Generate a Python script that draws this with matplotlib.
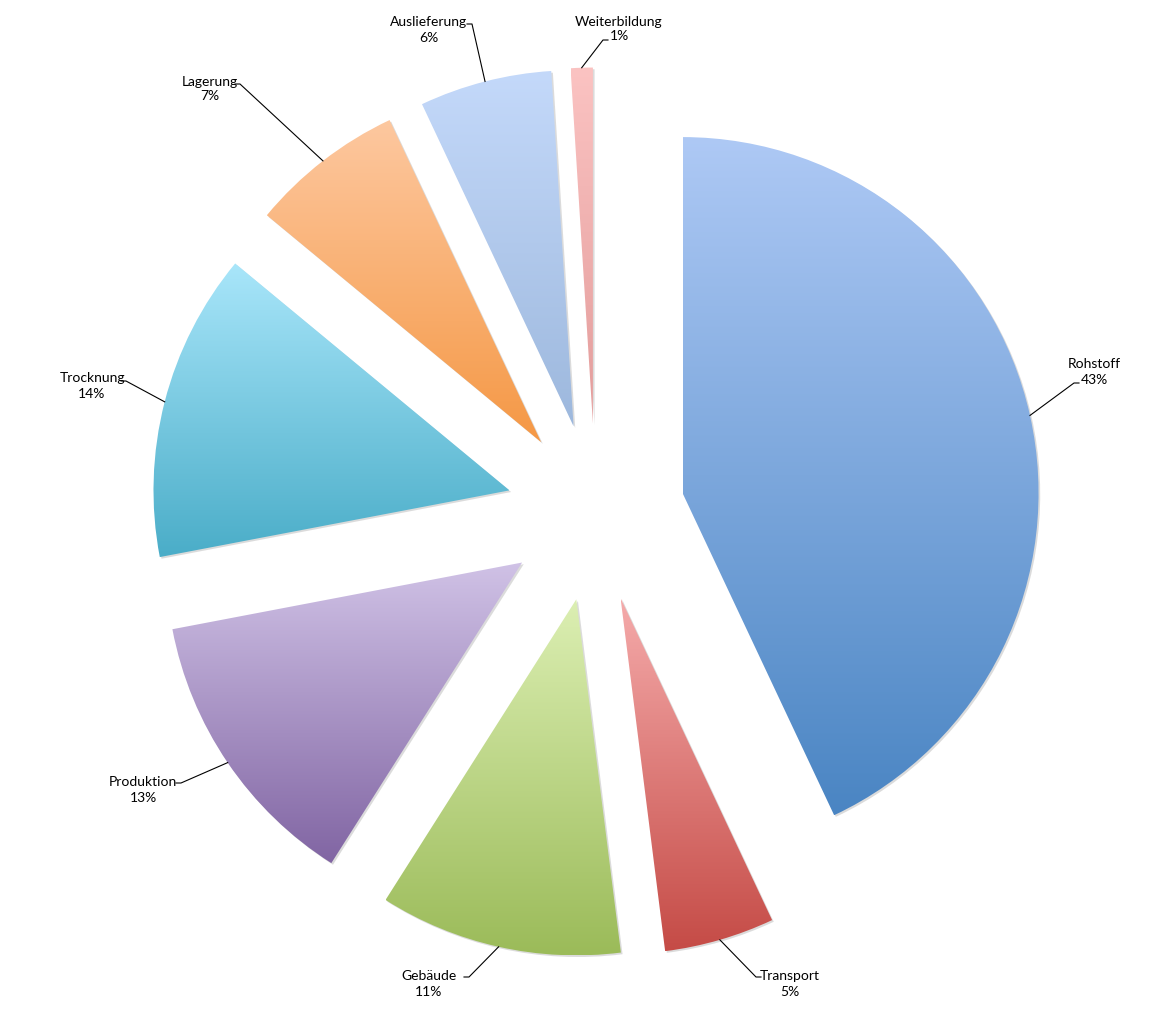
import matplotlib
matplotlib.use('Agg')
import matplotlib.pyplot as plt
import matplotlib.patheffects as pe
from matplotlib.colors import to_rgb
import numpy as np

plt.rcParams['font.family'] = ['Lato', 'DejaVu Sans']

categories = ['Rohstoff', 'Transport', 'Gebäude', 'Produktion',
              'Trocknung', 'Lagerung', 'Auslieferung', 'Weiterbildung']
shares = [43, 5, 11, 13, 14, 7, 6, 1]

# gradient colours (top, bottom) of every slice
top_colors = ['#AEC9F5', '#F5ABAB', '#DCEFB3', '#D0C2E6',
              '#A9E6FA', '#FDC8A0', '#C4D9FA', '#FBC3C2']
bottom_colors = ['#4A85C3', '#C54B46', '#9BBB59', '#8165A3',
                 '#4AADC8', '#F59845', '#9DB8DD', '#E39C9B']

# label layout in pixels: text centre, elbow of the leader, side of the stub
label_pos = [(1094, 372), (790, 984), (429, 984), (143, 790),
             (92, 386), (210, 89), (429, 30), (619, 29)]
elbow_pos = [(1074, 383), (756, 977), (469, 977), (181, 783),
             (126, 381), (240, 84), (472, 24), (603, 40)]
stub_dir = [1, 1, -1, -1, -1, -1, -1, 1]

W, H = 1156, 1014
CX, CY, R = 595.7, 512.5, 356.0


def px(p):
    return ((p[0] - CX) / R, (CY - p[1]) / R)


fig = plt.figure(figsize=(W / 100, H / 100), dpi=100)
ax = fig.add_axes([0, 0, 1, 1])

wedges, _ = ax.pie(shares, radius=1, center=(0, 0), startangle=90,
                   counterclock=False, explode=[0.25] * len(shares),
                   wedgeprops=dict(linewidth=0))

grad = np.linspace(0, 1, 256)[:, None, None]
for w, c0, c1 in zip(wedges, top_colors, bottom_colors):
    w.set_facecolor('none')
    w.set_edgecolor('none')
    w.set_path_effects([pe.SimplePatchShadow(offset=(1.2, -1.2),
                                             shadow_rgbFace='0.45', alpha=0.25)])
    ext = w.get_path().get_extents()
    img = np.array(to_rgb(c0)) * (1 - grad) + np.array(to_rgb(c1)) * grad
    im = ax.imshow(img, extent=(ext.x0, ext.x1, ext.y0, ext.y1), origin='upper',
                   aspect='auto', interpolation='bilinear', zorder=2)
    im.set_clip_path(w)

for w, name, val, lp, ep, sd in zip(wedges, categories, shares,
                                     label_pos, elbow_pos, stub_dir):
    tm = np.deg2rad((w.theta1 + w.theta2) / 2)
    ax_, ay_ = w.center[0] + w.r * np.cos(tm), w.center[1] + w.r * np.sin(tm)
    ex, ey = px(ep)
    sx = ex + sd * 5 / R
    ax.plot([ax_, ex, sx], [ay_, ey, ey], color='black', lw=0.8, zorder=3)
    lx, ly = px(lp)
    ax.text(lx, ly, f'{name}\n{val}%', ha='center', va='center',
            fontsize=10, linespacing=1.3, zorder=4)

ax.set_xlim(-CX / R, (W - CX) / R)
ax.set_ylim(-(H - CY) / R, CY / R)
ax.set_aspect('auto')
ax.axis('off')

fig.savefig('out.png', dpi=100, facecolor='white')
